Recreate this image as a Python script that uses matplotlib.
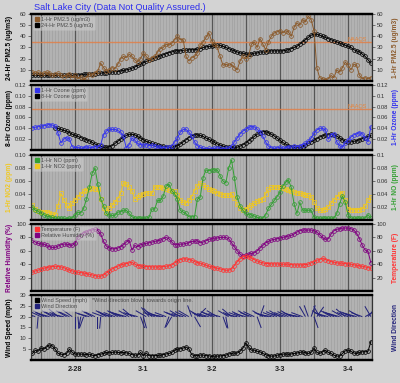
import numpy as np
import matplotlib.pyplot as plt
from matplotlib.lines import Line2D
from matplotlib.ticker import MultipleLocator

plt.rcParams['font.family'] = ['Liberation Sans', 'DejaVu Sans']

# hourly data, x = hours from 2-28 00:00 (2-27 09:00 .. 3-4 08:00)
hours = np.arange(-15, 105)

pm25_1hr = [8, 7, 8, 6, 7, 8, 7, 5, 6, 7,
            5, 4, 5, 6, 3, 5, 2, 4, 1, 3,
            6, 5, 7, 9, 16, 12, 9, 10, 12, 11,
            15, 20, 22, 21, 24, 22, 19, 17, 20, 25,
            22, 19, 21, 22, 26, 29, 30, 33, 32, 34,
            37, 40, 37, 37, 22, 18, 21, 22, 25, 32,
            35, 39, 43, 36, 33, 30, 22, 14, 15, 14,
            15, 12, 10, 18, 22, 20, 22, 33, 35, 30,
            38, 33, 28, 35, 40, 43, 44, 45, 43, 45,
            44, 40, 48, 52, 50, 55, 53, 58, 55, 45,
            12, 3, 2, 1, 2, 5, 3, 10, 8, 12,
            17, 14, 10, 15, 14, 5, 2, 3, 2, 3]
pm25_24hr = [5, 5, 5, 5, 5, 5, 5, 5, 5, 5,
             5, 5, 5, 5, 5, 5.5, 5.5, 5.5, 6, 6,
             6, 6.5, 6.5, 7, 7, 7.5, 7.5, 8, 8, 8.5,
             8.5, 9, 9.5, 10, 10.5, 11.5, 12.5, 14, 15, 16.5,
             17.5, 18.5, 19.5, 20.5, 21.5, 22.5, 23.5, 24.5, 25.5, 26,
             27, 27, 27, 27.5, 27.5, 28, 28, 28, 28.5, 29,
             30, 30.5, 31, 31, 32, 32, 32, 31, 30, 29,
             28, 27, 26, 25, 25, 24, 24, 24, 25, 25,
             26, 26, 26, 27, 27, 27, 27, 27, 27, 27.5,
             28, 29, 30, 31, 33, 35, 37, 39, 41, 42,
             42, 41, 40, 39, 38, 37, 36, 35, 34, 33,
             32, 31, 30, 28, 27, 26, 24, 22, 19, 16]

o3_1hr = [0.041, 0.042, 0.043, 0.044, 0.045, 0.046, 0.047, 0.046, 0.044, 0.031,
          0.013, 0.020, 0.023, 0.020, 0.006, 0.004, 0.005, 0.003, 0.004, 0.006,
          0.005, 0.004, 0.006, 0.005, 0.010, 0.028, 0.035, 0.038, 0.038, 0.038,
          0.036, 0.033, 0.025, 0.004, 0.010, 0.022, 0.018, 0.012, 0.010, 0.009,
          0.010, 0.008, 0.009, 0.008, 0.005, 0.005, 0.004, 0.005, 0.005, 0.008,
          0.015, 0.022, 0.033, 0.038, 0.038, 0.033, 0.025, 0.015, 0.008, 0.005,
          0.003, 0.002, 0.003, 0.002, 0.003, 0.004, 0.003, 0.002, 0.003, 0.003,
          0.007, 0.015, 0.022, 0.030, 0.035, 0.038, 0.042, 0.043, 0.043, 0.038,
          0.034, 0.025, 0.015, 0.007, 0.004, 0.003, 0.004, 0.005, 0.003, 0.004,
          0.006, 0.005, 0.007, 0.006, 0.007, 0.010, 0.012, 0.016, 0.022, 0.031,
          0.037, 0.040, 0.040, 0.037, 0.020, 0.028, 0.030, 0.015, 0.008, 0.005,
          0.013, 0.018, 0.024, 0.028, 0.030, 0.032, 0.030, 0.022, 0.015, 0.043]
o3_8hr = [np.nan] * 8 + [
          0.041, 0.040, 0.038, 0.036, 0.035, 0.032, 0.029, 0.027, 0.025, 0.023,
          0.021, 0.019, 0.017, 0.014, 0.011, 0.009, 0.007, 0.005, 0.005, 0.006,
          0.008, 0.012, 0.016, 0.020, 0.024, 0.027, 0.029, 0.029, 0.028, 0.025,
          0.022, 0.019, 0.016, 0.014, 0.012, 0.011, 0.009, 0.008, 0.007, 0.006,
          0.005, 0.005, 0.006, 0.008, 0.011, 0.015, 0.019, 0.023, 0.026, 0.028,
          0.028, 0.027, 0.025, 0.022, 0.020, 0.017, 0.014, 0.011, 0.009, 0.007,
          0.006, 0.005, 0.004, 0.005, 0.005, 0.007, 0.010, 0.013, 0.017, 0.021,
          0.025, 0.029, 0.032, 0.034, 0.034, 0.032, 0.029, 0.026, 0.022, 0.018,
          0.014, 0.011, 0.008, 0.006, 0.005, 0.005, 0.005, 0.006, 0.009, 0.012,
          0.015, 0.018, 0.021, 0.024, 0.026, 0.028, 0.028, 0.029, 0.028, 0.026,
          0.022, 0.019, 0.016, 0.015, 0.015, 0.016, 0.017, 0.019, 0.021, 0.023,
          0.025, 0.027]

no_1hr = [0.020, 0.015, 0.014, 0.010, 0.008, 0.006, 0.005, 0.004, 0.003, 0.003,
          0.003, 0.003, 0.002, 0.003, 0.003, 0.008, 0.012, 0.011, 0.018, 0.032,
          0.050, 0.072, 0.080, 0.055, 0.032, 0.022, 0.010, 0.007, 0.007, 0.007,
          0.012, 0.013, 0.015, 0.015, 0.010, 0.005, 0.003, 0.003, 0.003, 0.003,
          0.003, 0.004, 0.017, 0.017, 0.030, 0.030, 0.037, 0.052, 0.055, 0.045,
          0.040, 0.032, 0.015, 0.012, 0.010, 0.005, 0.005, 0.005, 0.032, 0.035,
          0.065, 0.077, 0.076, 0.077, 0.077, 0.077, 0.068, 0.060, 0.057, 0.080,
          0.092, 0.065, 0.035, 0.022, 0.015, 0.010, 0.008, 0.008, 0.006, 0.004,
          0.003, 0.003, 0.008, 0.018, 0.024, 0.030, 0.036, 0.043, 0.052, 0.058,
          0.062, 0.050, 0.025, 0.010, 0.027, 0.015, 0.015, 0.015, 0.015, 0.004,
          0.003, 0.003, 0.003, 0.003, 0.003, 0.003, 0.003, 0.010, 0.025, 0.037,
          0.027, 0.008, 0.003, 0.003, 0.003, 0.003, 0.003, 0.003, 0.008, 0.003]
no2_1hr = [0.023, 0.017, 0.014, 0.013, 0.013, 0.012, 0.011, 0.009, 0.008, 0.022,
           0.041, 0.031, 0.023, 0.018, 0.026, 0.031, 0.036, 0.040, 0.044, 0.046,
           0.047, 0.049, 0.048, 0.047, 0.033, 0.018, 0.013, 0.018, 0.023, 0.028,
           0.033, 0.041, 0.057, 0.056, 0.050, 0.044, 0.033, 0.035, 0.038, 0.040,
           0.042, 0.041, 0.041, 0.051, 0.051, 0.051, 0.049, 0.048, 0.046, 0.045,
           0.044, 0.038, 0.031, 0.027, 0.026, 0.031, 0.036, 0.045, 0.052, 0.057,
           0.054, 0.050, 0.048, 0.046, 0.044, 0.042, 0.040, 0.039, 0.038, 0.038,
           0.040, 0.034, 0.024, 0.018, 0.015, 0.017, 0.020, 0.023, 0.026, 0.029,
           0.031, 0.032, 0.040, 0.047, 0.050, 0.051, 0.051, 0.050, 0.049, 0.047,
           0.046, 0.044, 0.043, 0.042, 0.041, 0.040, 0.039, 0.038, 0.036, 0.028,
           0.018, 0.015, 0.015, 0.017, 0.020, 0.026, 0.031, 0.036, 0.040, 0.042,
           0.030, 0.017, 0.016, 0.016, 0.016, 0.016, 0.017, 0.022, 0.030, 0.035]

temp_f = [28, 30, 31, 33, 34, 35, 36, 36.5, 37, 36.5,
          36, 35, 33, 31, 30, 29, 28, 27.5, 27, 26,
          25, 24, 23, 22, 22, 24, 27, 30, 33, 35,
          37, 39, 40, 41, 42, 43, 40, 38, 37.5, 37,
          36.5, 36.5, 36, 36, 36, 36, 36.5, 37, 37.5, 39,
          42, 45, 47, 48, 48, 47, 46, 44, 42.5, 41.5,
          40, 38.5, 37, 36, 35, 34, 33, 32, 31, 31,
          33, 38, 44, 48, 51, 52, 51, 49, 47, 45,
          43, 42, 41, 41, 40.5, 40.5, 40.5, 40, 40, 40,
          40, 39.5, 39, 39, 39, 39, 39.5, 40, 42, 44,
          46, 47, 49, 47, 45.5, 44, 43, 42, 41.5, 41.5,
          41, 40.5, 40, 39, 38.5, 37.5, 37, 36, 35, 34]
rh_pct = [76, 73, 71, 70, 70, 68, 66, 65, 65, 67,
          69, 70, 70, 69, 68, 72, 80, 84, 87, 88,
          90, 91, 92, 90, 85, 74, 67, 64, 63, 63,
          64, 66, 69, 73, 76, 61, 68, 66, 69, 70,
          71, 72, 73, 74, 75, 76, 78, 80, 78, 73,
          69, 69, 70, 70, 71, 72, 74, 74, 75, 72,
          73, 75, 77, 78, 79, 79, 80, 80, 80, 78,
          72, 66, 60, 55, 52, 53, 55, 56, 57, 60,
          64, 68, 72, 74, 76, 77, 78, 79, 80, 81,
          82, 83, 85, 88, 90, 91, 91, 91, 91, 90,
          88, 84, 80, 77, 78, 85, 90, 92, 93, 94,
          94, 94, 93, 91, 86, 78, 68, 61, 59, 42]

wind_mph = [3, 4.5, 4, 5.5, 5, 6, 7, 6.5, 5, 3,
            2.7, 2.5, 3, 5, 3.5, 2.7, 2.8, 2.7, 2.7, 2.5,
            2.7, 2.2, 2, 2.5, 2.7, 3, 3.5, 3.3, 3.5, 3.7,
            3.5, 3.3, 3.5, 3.3, 3, 2.5, 2.3, 2.2, 3.5, 2,
            3.2, 2, 2, 2, 2.1, 2.2, 2.5, 2.8, 3, 3.5,
            4.5, 5, 5.2, 5.5, 6, 5.2, 2.5, 2, 2, 2.3,
            2.3, 2, 2, 1.6, 1.8, 1.8, 1.9, 2, 2.2, 2.8,
            3, 3.2, 3.2, 4, 5.5, 7.8, 6, 4.5, 4.6, 4,
            3.8, 3, 2.5, 2, 1.8, 1.8, 2.2, 2.5, 2.7, 2.8,
            2.6, 2.8, 3, 3.2, 3.5, 3.8, 3.3, 3, 3.5, 5.4,
            3.5, 3, 3.8, 4.5, 3.5, 3, 2.2, 1.8, 1.8, 3,
            4.2, 4.6, 4, 3.2, 3, 3.5, 3.8, 3.8, 4, 8.5]
# direction the wind comes from, degrees
wind_dir = [300, 290, 185, 295, 300, 290, 285, 300, 295, 310, 290, 280,
            300, 295, 305, 180, 175, 190, 200, 290, 285, 300, 295, 180,
            185, 290, 300, 295, 285, 290, 300, 295, 290, 285, 300, 310,
            290, 285, 160, 165, 300, 320, 315, 290, 295, 285, 280, 290,
            200, 210, 295, 290, 300, 285, 295, 300, 340, 150, 45, 300,
            290, 280, 285, 295, 290, 300, 285, 160, 170, 300, 310, 290,
            280, 290, 295, 285, 300, 290, 295, 160, 20, 300, 290, 285,
            280, 290, 295, 300, 285, 290, 295, 300, 290, 285, 280, 290,
            330, 340, 20, 160, 35, 330, 300, 290, 285, 300, 295, 290,
            285, 300, 310, 290, 295, 290, 285, 300, 290, 60, 40, 330]

day_ticks = [-12, 0, 12, 24, 36, 48, 60, 72, 84, 96]
day_labels = ['', '2-28', '', '3-1', '', '3-2', '', '3-3', '', '3-4']

BG = '#b2b2b2'
fig = plt.figure(figsize=(4, 3.83), dpi=100, facecolor='#d3d3d3')
L, W = 0.0775, 0.8525
boxes = [(0.7885, 0.1750), (0.6084, 0.1697), (0.4256, 0.1697), (0.2402, 0.1750), (0.0601, 0.1697)]


def panel(i, ylim, lticks, llabels, rticks, rlabels, lname, lcolor, rname, rcolor):
    ax = fig.add_axes([L, boxes[i][0], W, boxes[i][1]])
    ax2 = ax.twinx()
    ax.set_facecolor(BG)
    ax.set_xlim(-15.5, 104.4)
    ax.set_ylim(*ylim)
    ax2.set_ylim(*ylim)
    ax.set_xticks(day_ticks)
    ax.xaxis.set_minor_locator(MultipleLocator(1))
    ax.grid(which='major', axis='x', color='#555555', lw=0.9)
    ax.grid(which='minor', axis='x', color='#9c9c9c', lw=0.4)
    ax.set_axisbelow(True)
    ax.tick_params(axis='x', which='both', length=0)
    if i == 4:
        ax.set_xticklabels(day_labels, fontsize=5.2, fontweight='bold', color='#222222')
        ax.tick_params(axis='x', pad=4)
    else:
        ax.set_xticklabels([])
    ax.set_yticks(lticks)
    ax.set_yticklabels(llabels)
    ax2.set_yticks(rticks)
    ax2.set_yticklabels(rlabels)
    for a in (ax, ax2):
        a.tick_params(axis='y', labelsize=4.2, labelcolor='#333333', color='#444444',
                      length=2, width=0.5, pad=1.5)
        for s in ('top', 'bottom'):
            a.spines[s].set_linewidth(1.6)
            a.spines[s].set_color('black')
        for s in ('left', 'right'):
            a.spines[s].set_linewidth(0.8)
            a.spines[s].set_color('#333333')
    ax.set_ylabel(lname, color=lcolor, fontsize=4.8, fontweight='bold')
    ax.yaxis.set_label_coords(-0.053, 0.5)
    ax2.set_ylabel(rname, color=rcolor, fontsize=4.8, fontweight='bold')
    ax2.yaxis.set_label_coords(1.059, 0.5)
    return ax, ax2


def series(a, y, color, marker='o'):
    a.plot(hours, y, color=color, lw=0.7, marker=marker, markersize=2.7,
           markerfacecolor='none', markeredgecolor=color, markeredgewidth=0.55)


def legend(a, items):
    handles = [Line2D([], [], ls='none', marker='s', markersize=3.5,
                      markerfacecolor=c, markeredgecolor=c) for _, c in items]
    leg = a.legend(handles, [t for t, _ in items], loc='upper left', fontsize=4,
                   frameon=True, facecolor='#cccccc', edgecolor='#bbbbbb', framealpha=0.6,
                   borderpad=0.3, handlelength=0.8, handletextpad=0.4,
                   labelspacing=0.15, borderaxespad=0.3)
    leg.get_frame().set_linewidth(0.4)
    for t in leg.get_texts():
        t.set_color('#4a4a4a')
    return leg


def naaqs(a, level):
    a.axhline(level, color='#e0804a', lw=1.0, alpha=0.85)
    a.text(0.985, level, 'NAAQS', transform=a.get_yaxis_transform(), ha='right',
           va='bottom', fontsize=4, color='#e8843a')


BROWN, BLUE, GREEN, GOLD = '#8b5a2b', '#3333ee', '#33a033', '#f0c820'
RED, PURPLE, NAVY = '#ff3333', '#800080', '#22227a'

# PM2.5
ax, ax2 = panel(0, (0, 60), [10, 20, 30, 40, 50, 60], ['10', '20', '30', '40', '50', '60'],
                [10, 20, 30, 40, 50, 60], ['10', '20', '30', '40', '50', '60'],
                '24-Hr PM2.5 (ug/m3)', 'black', '1-Hr PM2.5 (ug/m3)', BROWN)
naaqs(ax, 35)
series(ax, pm25_24hr, 'black')
series(ax2, pm25_1hr, BROWN)
legend(ax2, [('1-Hr PM2.5 (ug/m3)', BROWN), ('24-Hr PM2.5 (ug/m3)', 'black')])

# Ozone
ax, ax2 = panel(1, (0, 0.12), [0.02, 0.04, 0.06, 0.08, 0.10, 0.12],
                ['0.02', '0.04', '0.06', '0.08', '0.10', '0.12'],
                [0.02, 0.04, 0.06, 0.08, 0.10, 0.12],
                ['0.02', '0.04', '0.06', '0.08', '0.1', '0.12'],
                '8-Hr Ozone (ppm)', 'black', '1-Hr Ozone (ppm)', BLUE)
naaqs(ax, 0.075)
series(ax, o3_8hr, 'black')
series(ax2, o3_1hr, BLUE)
legend(ax2, [('1-Hr Ozone (ppm)', BLUE), ('8-Hr Ozone (ppm)', 'black')])

# NO / NO2
ax, ax2 = panel(2, (0, 0.1), [0.02, 0.04, 0.06, 0.08, 0.10],
                ['0.02', '0.04', '0.06', '0.08', '0.10'],
                [0.02, 0.04, 0.06, 0.08, 0.10], ['0.02', '0.04', '0.06', '0.08', '0.1'],
                '1-Hr NO2 (ppm)', GOLD, '1-Hr NO (ppm)', GREEN)
series(ax, no2_1hr, GOLD, marker='s')
series(ax2, no_1hr, GREEN)
legend(ax2, [('1-Hr NO (ppm)', GREEN), ('1-Hr NO2 (ppm)', GOLD)])

# Temperature / RH
ax, ax2 = panel(3, (0, 100), [20, 40, 60, 80, 100], ['20', '40', '60', '80', '100'],
                [20, 40, 60, 80, 100], ['20', '40', '60', '80', '100'],
                'Relative Humidity (%)', PURPLE, 'Temperature (F)', RED)
series(ax, rh_pct, PURPLE)
series(ax2, temp_f, RED)
legend(ax2, [('Temperature (F)', RED), ('Relative Humidity (%)', PURPLE)])

# Wind
ax, ax2 = panel(4, (0, 30), [5, 10, 15, 20, 25, 30], ['5', '10', '15', '20', '25', '30'],
                [], [], 'Wind Speed (mph)', 'black', 'Wind Direction', NAVY)
rad = np.deg2rad(wind_dir)
ax.quiver(hours, np.full(len(hours), 20.0), np.sin(rad), np.cos(rad), angles='uv',
          scale_units='inches', scale=1 / 0.12, pivot='tail', color=NAVY,
          units='dots', width=1.0, headwidth=0, headlength=0, headaxislength=0)
series(ax, wind_mph, 'black')
legend(ax2, [('Wind Speed (mph)', 'black'), ('Wind Direction', NAVY)])
ax2.text(0.18, 0.95, '*Wind direction blows towards origin line.', transform=ax2.transAxes,
         fontsize=4, color='#4a4a4a', va='top')

fig.text(0.085, 1 - 8 / 383, 'Salt Lake City (Data Not Quality Assured.)', ha='left',
         va='center', color='#2a2aee', fontsize=6.6)

fig.savefig('out.png', dpi=100, facecolor=fig.get_facecolor())
